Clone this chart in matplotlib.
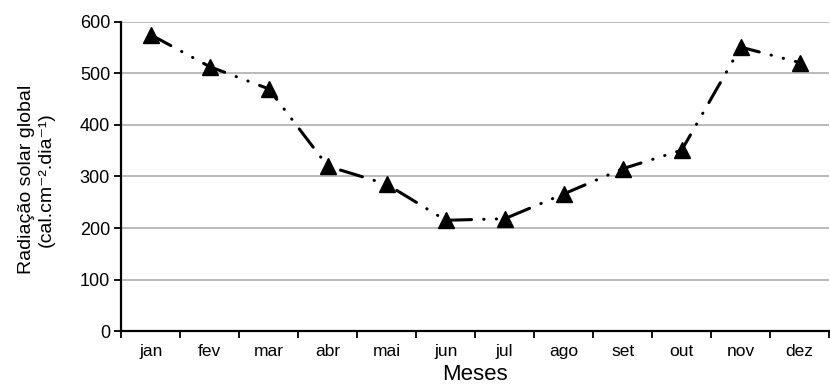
import matplotlib
matplotlib.use('Agg')
import matplotlib.pyplot as plt
import numpy as np

plt.rcParams['font.family'] = ['Liberation Sans', 'DejaVu Sans']

# monthly global solar radiation
meses = ['jan', 'fev', 'mar', 'abr', 'mai', 'jun', 'jul', 'ago', 'set', 'out', 'nov', 'dez']
radiacao = [575, 513, 470, 320, 285, 215, 218, 266, 315, 351, 551, 521]
yticks = [0, 100, 200, 300, 400, 500, 600]

fig = plt.figure(figsize=(8.3, 3.9), dpi=100)
ax = fig.add_axes([0.146, 0.151, 0.853, 0.793])

x = np.arange(len(meses))
# long dash - dot - dot
ax.plot(x, radiacao, color='black', lw=2.2, marker='^', markersize=11,
        dashes=(7.5, 4, 0.1, 4, 0.1, 4), dash_capstyle='round', zorder=3)

ax.set_xlim(-0.5, len(meses) - 0.5)
ax.set_ylim(0, 600)
ax.set_yticks(yticks)
ax.set_xticks(x)
ax.set_xticklabels(meses, fontsize=12.5)
ax.set_xticks(np.arange(-0.5, len(meses), 1), minor=True)
ax.tick_params(axis='x', which='major', length=0, pad=9)
ax.tick_params(axis='x', which='minor', length=5, width=1.3, direction='out')
ax.tick_params(axis='y', length=5, width=1.3, labelsize=13, pad=3)

ax.grid(axis='y', color='#b4b4b4', lw=1.3)
ax.set_axisbelow(True)
for s in ['top', 'right']:
    ax.spines[s].set_visible(False)
for s in ['left', 'bottom']:
    ax.spines[s].set_linewidth(1.6)

ax.set_ylabel('Radiação solar global\n(cal.cm\u207b\u00b2.dia\u207b\u00b9)', fontsize=14, linespacing=1.2)
ax.yaxis.set_label_coords(-0.094, 0.49)
ax.set_xlabel('Meses', fontsize=16, labelpad=4)

fig.savefig('out.png', dpi=100)
